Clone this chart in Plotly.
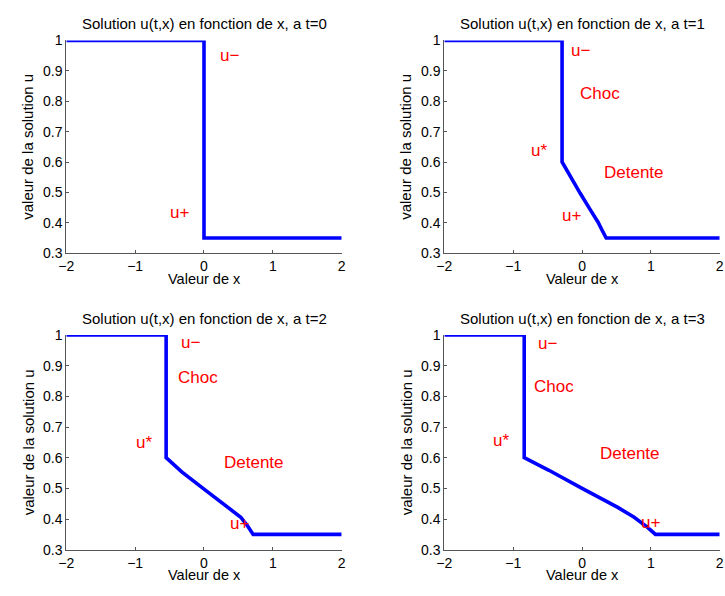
import plotly.graph_objects as go

# ---- data ----
times = [0, 1, 2, 3]
u_minus = 1.0
u_plus = 0.35
x_min, x_max = -2, 2

# shock position at each time
shock_x = [0.0, -0.29, -0.55, -0.84]

# rarefaction (detente) profile at each time: x values and u values
detente_x = [
    [],
    [-0.29, -0.171, -0.029, 0.114, 0.233, 0.304, 0.351],
    [-0.55, -0.323, 0.01, 0.296, 0.534, 0.629, 0.714],
    [-0.84, -0.481, -0.006, 0.519, 0.757, 0.947, 1.066],
]
detente_u = [
    [],
    [0.6, 0.552, 0.498, 0.445, 0.402, 0.370, 0.35],
    [0.6, 0.554, 0.496, 0.448, 0.406, 0.379, 0.35],
    [0.6, 0.559, 0.501, 0.438, 0.406, 0.374, 0.35],
]

# text labels (label, x, u) per panel
labels = [
    [("u\u2212", 0.37, 0.95), ("u+", -0.35, 0.435)],
    [("u\u2212", -0.02, 0.968), ("Choc", 0.26, 0.824), ("u*", -0.62, 0.637),
     ("Detente", 0.76, 0.566), ("u+", -0.15, 0.424)],
    [("u\u2212", -0.2, 0.977), ("Choc", -0.09, 0.86), ("u*", -0.87, 0.651),
     ("Detente", 0.73, 0.585), ("u+", 0.51, 0.385)],
    [("u\u2212", -0.5, 0.971), ("Choc", -0.41, 0.831), ("u*", -1.18, 0.657),
     ("Detente", 0.70, 0.615), ("u+", 1.0, 0.39)],
]

x_ticks = [-2, -1, 0, 1, 2]
y_ticks = [0.3, 0.4, 0.5, 0.6, 0.7, 0.8, 0.9, 1.0]
y_ticktext = ["0.3", "0.4", "0.5", "0.6", "0.7", "0.8", "0.9", "1"]

W, H = 725, 596
# panel placement in pixels (left, right, top, bottom)
panels_px = [
    (59.3, 339.3, 33.3, 252.0),
    (443.7, 723.7, 33.3, 252.0),
    (59.3, 339.3, 336.0, 556.7),
    (443.7, 723.7, 336.0, 556.7),
]

FONT = "Liberation Sans, Arial, Helvetica, sans-serif"
AXIS_COLOR = "#555555"

fig = go.Figure()
annotations = []

for i, t in enumerate(times):
    if detente_x[i]:
        xs = [x_min, shock_x[i]] + detente_x[i] + [x_max]
        us = [u_minus, u_minus] + detente_u[i] + [u_plus]
    else:
        xs = [x_min, shock_x[i], shock_x[i], x_max]
        us = [u_minus, u_minus, u_plus, u_plus]
    xa = "x" if i == 0 else f"x{i+1}"
    ya = "y" if i == 0 else f"y{i+1}"
    fig.add_trace(go.Scatter(x=xs, y=us, mode="lines",
                             line=dict(color="#0000ff", width=3.6),
                             xaxis=xa, yaxis=ya, showlegend=False,
                             hoverinfo="skip"))

    l, r, tp, bt = panels_px[i]
    dom_x = [l / W, r / W]
    dom_y = [1 - bt / H, 1 - tp / H]
    axcommon = dict(showgrid=False, zeroline=False, showline=True,
                    linecolor=AXIS_COLOR, linewidth=1, ticks="inside",
                    ticklen=3, tickcolor=AXIS_COLOR, mirror=False,
                    ticklabeloverflow="allow",
                    tickfont=dict(family=FONT, size=14, color="#000000"))
    kx = "xaxis" if i == 0 else f"xaxis{i+1}"
    ky = "yaxis" if i == 0 else f"yaxis{i+1}"
    fig.update_layout({
        kx: dict(domain=dom_x, range=[x_min, x_max], tickvals=x_ticks,
                 anchor=ya, **axcommon),
        ky: dict(domain=dom_y, range=[0.3, 1.0], tickvals=y_ticks,
                 ticktext=y_ticktext, anchor=xa, **axcommon),
    })

    cx = (l + r) / 2 / W
    # title
    annotations.append(dict(text=f"Solution u(t,x) en fonction de x, a t={t}",
                            xref="paper", yref="paper", x=cx,
                            y=1 - (tp - 17) / H, xanchor="center",
                            yanchor="middle", showarrow=False,
                            font=dict(family=FONT, size=15, color="#000000")))
    # x label
    annotations.append(dict(text="Valeur de x", xref="paper", yref="paper",
                            x=cx, y=1 - (bt + 26) / H, xanchor="center",
                            yanchor="middle", showarrow=False,
                            font=dict(family=FONT, size=14.5, color="#000000")))
    # y label
    annotations.append(dict(text="valeur de la solution u", xref="paper",
                            yref="paper", x=(l - 39) / W,
                            y=1 - (tp + bt) / 2 / H, xanchor="center",
                            yanchor="middle", textangle=-90, showarrow=False,
                            font=dict(family=FONT, size=15, color="#000000")))
    for txt, lx, lu in labels[i]:
        annotations.append(dict(text=txt, xref=xa, yref=ya, x=lx, y=lu,
                                xanchor="center", yanchor="middle",
                                showarrow=False,
                                font=dict(family=FONT, size=17, color="#ff0000")))

fig.update_layout(width=W, height=H, margin=dict(l=0, r=0, t=0, b=0),
                  paper_bgcolor="white", plot_bgcolor="white",
                  annotations=annotations, showlegend=False)

fig.write_html(
    "out.html", config={"displayModeBar": False},
    post_script=(
        "var s=document.documentElement.style;s.margin='0';s.padding='0';"
        "s.overflow='hidden';"
        "var b=document.body.style;b.margin='0';b.padding='0';"
        "b.overflow='hidden';b.width='725px';b.height='596px';"
        "window.scrollTo(0,0);"
    ),
)
